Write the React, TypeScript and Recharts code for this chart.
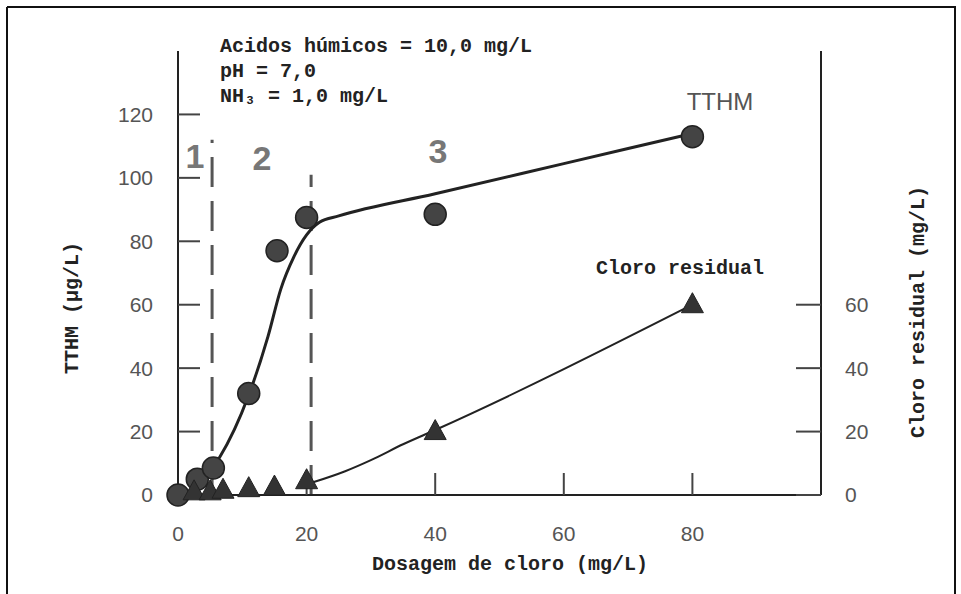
import React from 'react';
import { ComposedChart, Line, Scatter, XAxis, YAxis, ReferenceLine } from 'recharts';

// axis ticks
const doseTicks = [0, 20, 40, 60, 80];
const tthmTicks = [0, 20, 40, 60, 80, 100, 120];
const chlorineTicks = [0, 20, 40, 60];

// measured TTHM (circles)
const tthmDose = [0, 3, 5.5, 11, 15.4, 20, 40, 80];
const tthmValues = [0, 5, 8.5, 32, 77, 87.5, 88.5, 113];

// measured residual chlorine (triangles)
const chlorineDose = [2.5, 5, 7, 11, 15, 20, 40, 80];
const chlorineValues = [1, 1, 1.5, 2, 2.5, 4.5, 20, 60];

// hand-drawn curves
const tthmCurveDose = [5.5, 6.5, 11, 14, 16, 18, 20, 22, 25, 40, 60, 80];
const tthmCurveValues = [9, 12, 31.5, 50, 65, 75, 82, 86, 88, 95, 104.5, 114];
const chlorineCurveDose = [21, 26, 30, 35, 40, 80];
const chlorineCurveValues = [4, 7.5, 11, 16, 20.5, 60];

// region boundaries (dashed lines): dose, top
const boundaryDose = [5.3, 20.7];
const boundaryTop = [112, 101];

const zip = (xs: number[], ys: number[]) => xs.map((x, i) => ({ x, y: ys[i] }));

const tthmPoints = zip(tthmDose, tthmValues);
const chlorinePoints = zip(chlorineDose, chlorineValues);
const tthmCurve = zip(tthmCurveDose, tthmCurveValues);
const chlorineCurve = zip(chlorineCurveDose, chlorineCurveValues);

const mono = '"Liberation Mono", "DejaVu Sans Mono", monospace';
const sans = '"Liberation Sans", Arial, sans-serif';
const tickStyle = { fontFamily: sans, fontSize: 21, fill: '#555' };

const Circle = (props: any) => (
  <circle cx={props.cx} cy={props.cy} r={11} fill="#444" stroke="#222" strokeWidth={1.5} />
);

const Triangle = (props: any) => {
  const { cx, cy } = props;
  const pts = `${cx},${cy - 12} ${cx - 11},${cy + 8} ${cx + 11},${cy + 8}`;
  return <polygon points={pts} fill="#333" stroke="#222" strokeWidth={1} />;
};

export default function App() {
  return (
    <div style={{ position: 'absolute', left: 0, top: 0, width: 961, height: 594, background: '#fff' }}>
      <ComposedChart width={961} height={594} margin={{ top: 51, right: 80, bottom: 69, left: 118 }}>
        <XAxis
          type="number"
          dataKey="x"
          domain={[0, 100]}
          ticks={doseTicks}
          height={30}
          tickSize={-22}
          tickMargin={53}
          tick={tickStyle}
          stroke="#222"
          axisLine={{ stroke: '#222', strokeWidth: 2 }}
          tickLine={{ stroke: '#444', strokeWidth: 2 }}
        />
        <YAxis
          yAxisId="tthm"
          orientation="left"
          domain={[0, 140]}
          ticks={tthmTicks}
          width={60}
          tickSize={-22}
          tickMargin={47}
          tick={tickStyle}
          axisLine={{ stroke: '#222', strokeWidth: 2 }}
          tickLine={{ stroke: '#444', strokeWidth: 2 }}
        />
        <YAxis
          yAxisId="cl"
          orientation="right"
          domain={[0, 140]}
          ticks={chlorineTicks}
          width={60}
          tickSize={-25}
          tickMargin={49}
          tick={tickStyle}
          axisLine={{ stroke: '#222', strokeWidth: 2 }}
          tickLine={{ stroke: '#444', strokeWidth: 2 }}
        />
        {boundaryDose.map((d, i) => (
          <ReferenceLine
            key={i}
            yAxisId="tthm"
            segment={[{ x: d, y: 0 }, { x: d, y: boundaryTop[i] }]}
            stroke="#555"
            strokeWidth={3}
            strokeDasharray="30 14"
          />
        ))}
        <Line
          yAxisId="tthm"
          data={tthmCurve}
          dataKey="y"
          type="monotone"
          stroke="#222"
          strokeWidth={3}
          dot={false}
          isAnimationActive={false}
        />
        <Line
          yAxisId="cl"
          data={chlorineCurve}
          dataKey="y"
          type="monotone"
          stroke="#222"
          strokeWidth={2}
          dot={false}
          isAnimationActive={false}
        />
        <Scatter yAxisId="tthm" data={tthmPoints} dataKey="y" shape={Circle} isAnimationActive={false} />
        <Scatter yAxisId="cl" data={chlorinePoints} dataKey="y" shape={Triangle} isAnimationActive={false} />
      </ComposedChart>
      <svg
        width={961}
        height={594}
        style={{ position: 'absolute', left: 0, top: 0, pointerEvents: 'none' }}
      >
        <line x1={7} y1={7} x2={956} y2={7} stroke="#111" strokeWidth={2} />
        <line x1={7} y1={7} x2={7} y2={594} stroke="#111" strokeWidth={2} />
        <line x1={955} y1={7} x2={955} y2={594} stroke="#111" strokeWidth={2} />
        <g fontFamily={mono} fontSize={20} fontWeight="bold" fill="#222">
          <text x={220} y={52}>Acidos húmicos = 10,0 mg/L</text>
          <text x={220} y={77}>pH = 7,0</text>
          <text x={220} y={102}>NH₃ = 1,0 mg/L</text>
          <text x={510} y={570} textAnchor="middle">Dosagem de cloro (mg/L)</text>
          <text x={680} y={274} textAnchor="middle">Cloro residual</text>
          <text x={78} y={308} textAnchor="middle" transform="rotate(-90 78 308)">TTHM (µg/L)</text>
          <text x={924} y={312} textAnchor="middle" transform="rotate(-90 924 312)">Cloro residual (mg/L)</text>
        </g>
        <text x={720} y={110} textAnchor="middle" fontFamily={sans} fontSize={24} fill="#555">TTHM</text>
        <g fontFamily={sans} fontSize={34} fontWeight="bold" fill="#777" textAnchor="middle">
          <text x={195} y={168}>1</text>
          <text x={262} y={170}>2</text>
          <text x={438} y={163}>3</text>
        </g>
      </svg>
    </div>
  );
}
